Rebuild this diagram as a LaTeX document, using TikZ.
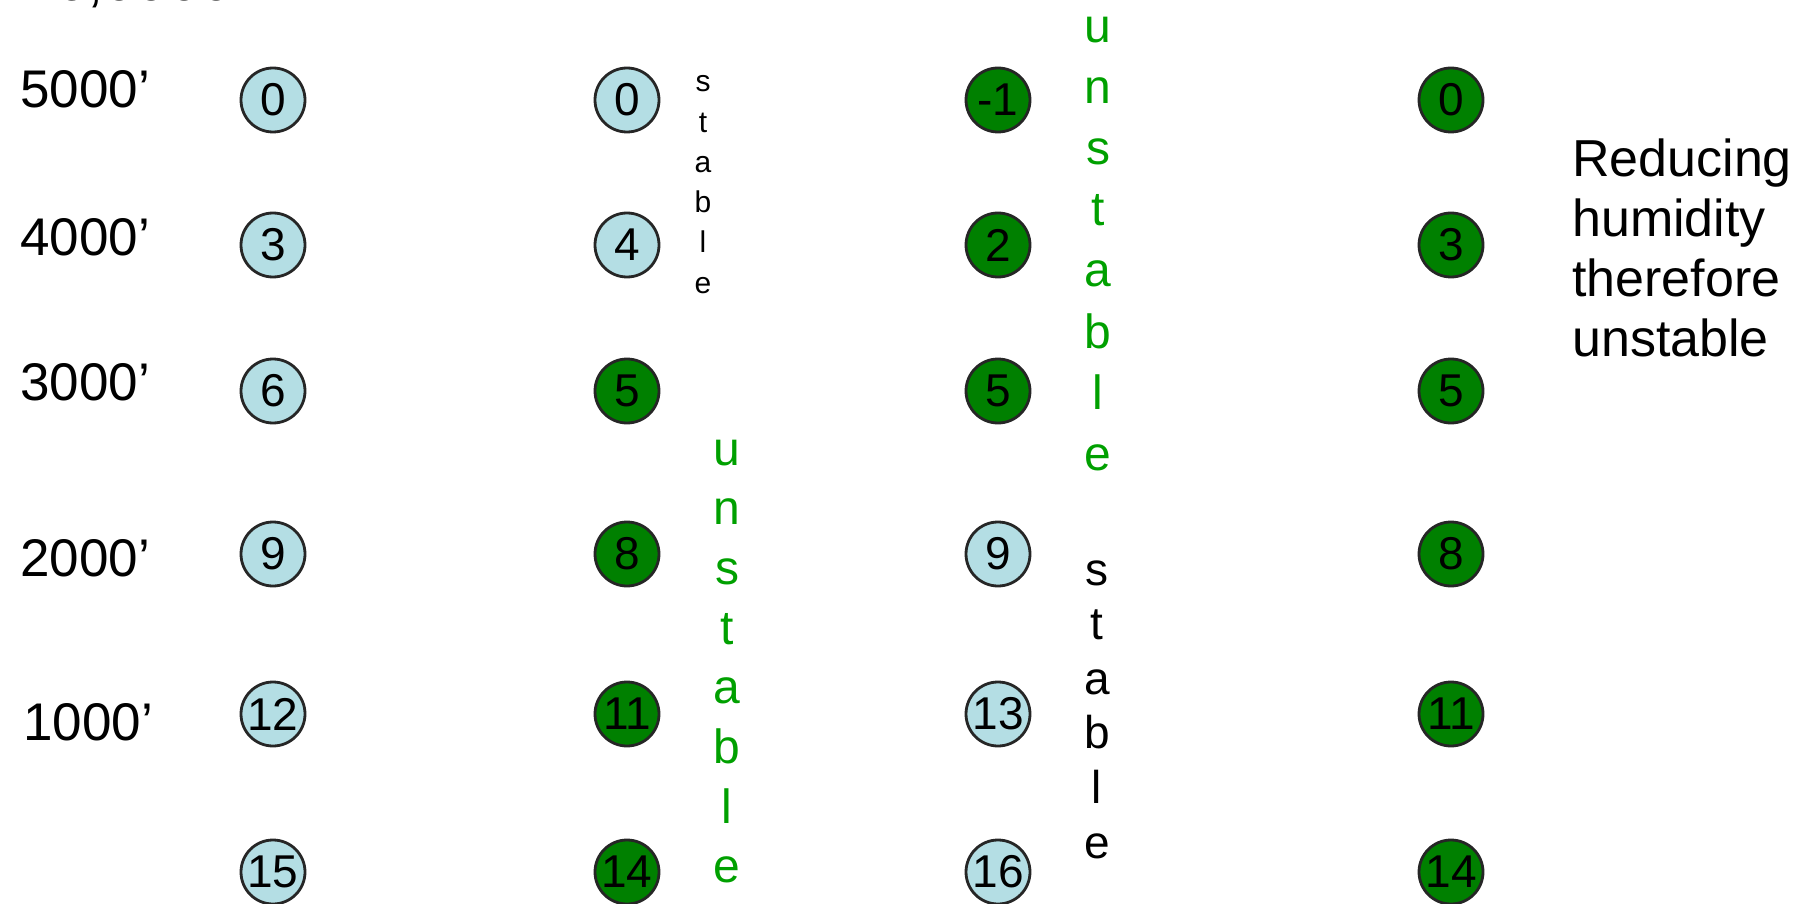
\documentclass[tikz,border=0pt]{standalone}
\usepackage{fontspec}
\setmainfont{Liberation Sans}
\definecolor{lblue}{RGB}{180,222,228}
\definecolor{dgreen}{RGB}{0,128,0}
\definecolor{tgreen}{RGB}{0,160,0}
\begin{document}
\begin{tikzpicture}[x=1pt,y=-1pt,
  cell/.style={circle,draw=black!85,line width=2.8pt,minimum size=64pt,inner sep=0pt,font=\fontsize{46}{46}\selectfont},
  cold/.style={cell,fill=lblue},
  warm/.style={cell,fill=dgreen},
  alt/.style={anchor=base west,inner sep=0pt,font=\fontsize{53}{60}\selectfont},
  note/.style={anchor=north west,inner sep=0pt,align=left,font=\fontsize{52}{60}\selectfont},
  smallv/.style={anchor=base,inner sep=0pt,font=\fontsize{30}{30}\selectfont},
  greenv/.style={anchor=base,inner sep=0pt,text=tgreen,font=\fontsize{48}{48}\selectfont},
  blackv/.style={anchor=base,inner sep=0pt,font=\fontsize{46}{46}\selectfont}]
\useasboundingbox (0,0) rectangle (1797,904);

% cut-off heading
\node[alt,font=\fontsize{58}{60}\selectfont] (head) at (55,1) {6,0000'};

% altitude labels
\node[alt] (l5) at (20,108) {5000'};
\node[alt] (l4) at (20,255) {4000'};
\node[alt] (l3) at (20,400) {3000'};
\node[alt] (l2) at (20,576) {2000'};
\node[alt] (l1) at (23,740) {1000'};

% column 1
\node[cold] (a1) at (273,100) {0};
\node[cold] (a2) at (273,245) {3};
\node[cold] (a3) at (273,391) {6};
\node[cold] (a4) at (273,554) {9};
\node[cold] (a5) at (273,714) {12};
\node[cold] (a6) at (273,872) {15};

% column 2
\node[cold] (b1) at (627,100) {0};
\node[cold] (b2) at (627,245) {4};
\node[warm] (b3) at (627,391) {5};
\node[warm] (b4) at (627,554) {8};
\node[warm] (b5) at (627,714) {11};
\node[warm] (b6) at (627,872) {14};

% column 3
\node[warm] (c1) at (998,100) {-1};
\node[warm] (c2) at (998,245) {2};
\node[warm] (c3) at (998,391) {5};
\node[cold] (c4) at (998,554) {9};
\node[cold] (c5) at (998,714) {13};
\node[cold] (c6) at (998,872) {16};

% column 4
\node[warm] (d1) at (1451,100) {0};
\node[warm] (d2) at (1451,245) {3};
\node[warm] (d3) at (1451,391) {5};
\node[warm] (d4) at (1451,554) {8};
\node[warm] (d5) at (1451,714) {11};
\node[warm] (d6) at (1451,872) {14};

% vertical words
\foreach \ch [count=\i from 0] in {s,t,a,b,l,e}
  \node[smallv] (sa\i) at (703,92+40.2*\i) {\ch};
\foreach \ch [count=\i from 0] in {u,n,s,t,a,b,l,e}
  \node[greenv] (ua\i) at (727,465+59.7*\i) {\ch};
\foreach \ch [count=\i from 0] in {u,n,s,t,a,b,l,e}
  \node[greenv] (ub\i) at (1098,43+61*\i) {\ch};
\foreach \ch [count=\i from 0] in {s,t,a,b,l,e}
  \node[blackv] (sb\i) at (1097,585+54.6*\i) {\ch};

% note
\node[note] (note) at (1572,139) {Reducing\\humidity\\therefore\\unstable};
\end{tikzpicture}
\end{document}
